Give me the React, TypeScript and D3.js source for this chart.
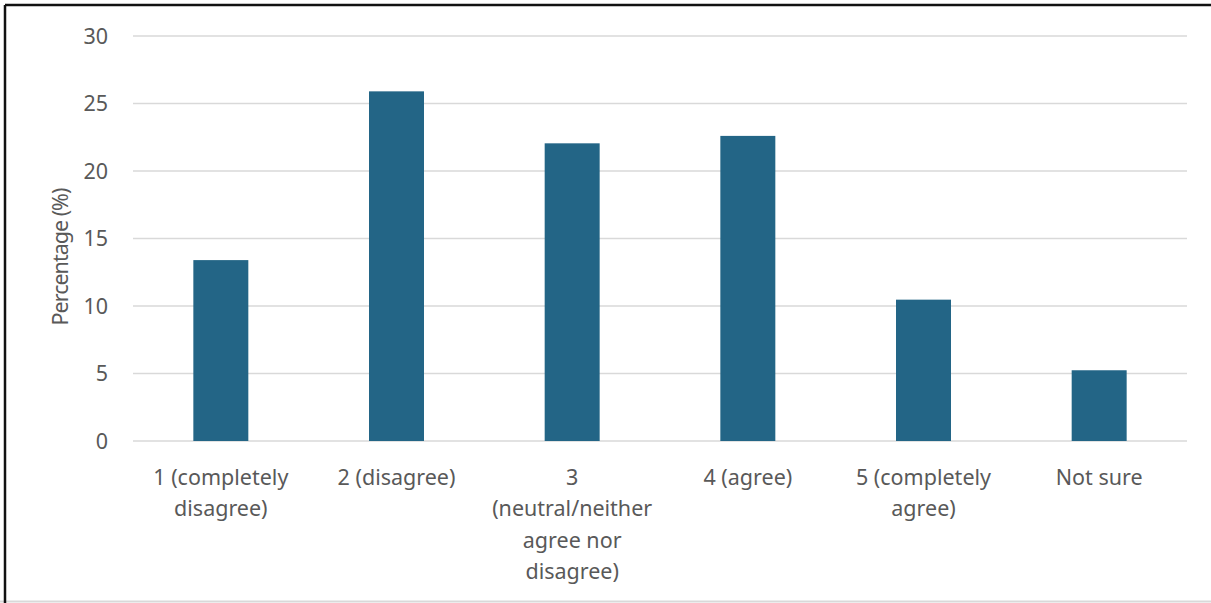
import React from "react";
import * as d3 from "d3";

const categories: string[][] = [
  ["1 (completely", "disagree)"],
  ["2 (disagree)"],
  ["3", "(neutral/neither", "agree nor", "disagree)"],
  ["4 (agree)"],
  ["5 (completely", "agree)"],
  ["Not sure"],
];
const values: number[] = [13.4, 25.9, 22.05, 22.6, 10.47, 5.24];
const yTicks: number[] = [0, 5, 10, 15, 20, 25, 30];
const yTitle = "Percentage (%)";

const W = 1211;
const H = 603;
const left = 133;
const right = 1187;
const top = 36;
const bottom = 441;
const FONT = "'Noto Sans', 'Open Sans', sans-serif";
const TEXT = "#595959";

export default function App() {
  const x = d3
    .scaleBand<number>()
    .domain(d3.range(categories.length))
    .range([left, right])
    .paddingInner(0.687)
    .paddingOuter(0.3435);
  const y = d3.scaleLinear().domain([0, 30]).range([bottom, top]);

  return (
    <svg
      width={W}
      height={H}
      style={{ position: "absolute", left: 0, top: 0, background: "#fff" }}
      fontFamily={FONT}
    >
      <rect x={0} y={0} width={W} height={H} fill="#fff" />
      {yTicks.map((t) => (
        <g key={t}>
          <line
            x1={left}
            x2={right}
            y1={y(t)}
            y2={y(t)}
            stroke="#d9d9d9"
            strokeWidth={1.5}
          />
          <text
            x={108}
            y={y(t)}
            dy="0.36em"
            textAnchor="end"
            fontSize={21.5}
            fill={TEXT}
          >
            {t}
          </text>
        </g>
      ))}
      {values.map((v, i) => (
        <rect
          key={i}
          x={x(i)}
          y={y(v)}
          width={x.bandwidth()}
          height={y(0) - y(v)}
          fill="#236586"
        />
      ))}
      {categories.map((lines, i) => (
        <text
          key={i}
          x={(x(i) as number) + x.bandwidth() / 2}
          y={477}
          textAnchor="middle"
          fontSize={21.5}
          fill={TEXT}
        >
          {lines.map((l, j) => (
            <tspan key={j} x={(x(i) as number) + x.bandwidth() / 2} dy={j === 0 ? "0.36em" : 31.5}>
              {l}
            </tspan>
          ))}
        </text>
      ))}
      <text
        transform={`translate(60,257) rotate(-90)`}
        textAnchor="middle"
        dy="0.36em"
        fontSize={21.5}
        letterSpacing={-1}
        fill={TEXT}
      >
        {yTitle}
      </text>
      <line x1={0} x2={W} y1={601.5} y2={601.5} stroke="#d9d9d9" strokeWidth={2} />
      <line x1={5} x2={W} y1={5} y2={5} stroke="#111" strokeWidth={2.5} />
      <line x1={5} x2={5} y1={5} y2={H} stroke="#111" strokeWidth={2.5} />
    </svg>
  );
}
